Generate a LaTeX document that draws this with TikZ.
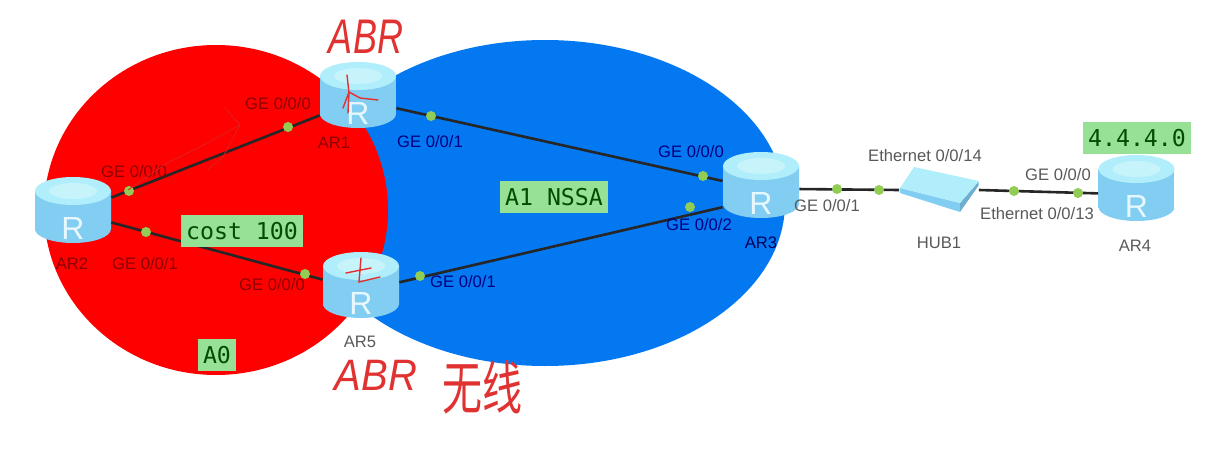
\documentclass[tikz,border=0pt]{standalone}
\usepackage{fontspec}
\setmainfont{Liberation Sans}
\setmonofont{DejaVu Sans Mono}
\newfontfamily\cjkfont{Noto Sans CJK SC}
\usetikzlibrary{positioning}
\definecolor{careared}{RGB}{254,0,0}
\definecolor{careablue}{RGB}{4,120,240}
\definecolor{cnote}{RGB}{150,225,150}
\definecolor{cport}{RGB}{145,205,85}
\definecolor{cbody}{RGB}{130,205,242}
\definecolor{clight}{RGB}{170,232,250}
\definecolor{ctop}{RGB}{175,238,250}
\definecolor{cpen}{RGB}{225,50,50}
\begin{document}
\begin{tikzpicture}[
    x=0.5pt, y=-0.5pt,
    router/.style={minimum width=38pt, minimum height=33pt, inner sep=0pt,
      label={[text=white!90!cyan, font=\fontsize{16}{16}\selectfont, inner sep=0pt, yshift=-9pt]center:R},
      path picture={
        \shade[left color=cbody, middle color=clight, right color=cbody]
          (-38,-19) -- (-38,19) arc[start angle=180, end angle=0, x radius=38, y radius=14]
          -- (38,-19) -- cycle;
        \fill[ctop] (0,-19) ellipse [x radius=38, y radius=14];
        \fill[white, opacity=0.3] (0,-19) ellipse [x radius=24, y radius=8];
      }},
    hubbox/.style={minimum width=39.5pt, minimum height=23pt, inner sep=0pt,
      path picture={
        \fill[cbody] (-39,-2) -- (21,13) -- (21,22) -- (-39,3) -- cycle;
        \fill[cbody!85!black] (21,13) -- (40,-9) -- (40,-5) -- (21,22) -- cycle;
        \fill[ctop] (-39,-2) -- (-25,-23) -- (40,-9) -- (21,13) -- cycle;
      }},
    port/.style={circle, fill=cport, inner sep=0pt, minimum size=5pt},
    wire/.style={line width=1.3pt, black!85},
    note/.style={fill=cnote, font=\ttfamily\fontsize{11.6}{12}\selectfont, text=black!70!green,
      inner xsep=2.5pt, inner ysep=0pt, minimum height=16pt},
    iface/.style={font=\fontsize{8.3}{8.3}\selectfont, inner sep=0pt, text=#1},
    iface/.default=black!65,
    pen/.style={text=cpen, inner sep=0pt, transform shape},
    stroke/.style={cpen, line width=0.7pt, line cap=round}
]
\useasboundingbox (0,0) rectangle (1206,455);

%% areas
\fill[careablue] (545,203) ellipse [x radius=240, y radius=163];
\fill[careared] (216,210) ellipse [x radius=172, y radius=165];

%% routers and hub
\node[router] (ar1) at (358,95) {};
\node[router] (ar2) at (73,210) {};
\node[router] (ar5) at (361,285) {};
\node[router] (ar3) at (761,185) {};
\node[router] (ar4) at (1136.5,188) {};
\node[hubbox] (hub) at (939,190) {};

%% links
\draw[wire] (ar2.18) -- (ar1.208);
\draw[wire] (ar2.-18) -- (ar5.172);
\draw[wire] (ar1.-19) -- (ar3.174);
\draw[wire] (ar5.4) -- (ar3.210);
\draw[wire] (ar3.-6) -- (hub.west);
\draw[wire] (hub.east) -- (ar4.188);

%% ports
\node[port] (p1) at (288,127) {};
\node[port] (p2) at (129,191) {};
\node[port] (p3) at (146,232) {};
\node[port] (p4) at (305,274) {};
\node[port] (p5) at (431,116) {};
\node[port] (p6) at (703,176) {};
\node[port] (p7) at (420,276) {};
\node[port] (p8) at (690,207) {};
\node[port] (p9) at (837,189) {};
\node[port] (p10) at (879,190) {};
\node[port] (p11) at (1014,191) {};
\node[port] (p12) at (1078,193) {};

%% labels
\node[iface=red!55!black] (l1) at (278,104) {GE 0/0/0};
\node[iface=red!55!black] (l2) at (134,172) {GE 0/0/0};
\node[iface=red!55!black] (l3) at (145,264) {GE 0/0/1};
\node[iface=red!55!black] (l4) at (272,285) {GE 0/0/0};
\node[iface=blue!50!black] (l5) at (430,142) {GE 0/0/1};
\node[iface=blue!50!black] (l6) at (691,152) {GE 0/0/0};
\node[iface=blue!50!black] (l7) at (463,282) {GE 0/0/1};
\node[iface=blue!50!black] (l8) at (699,225) {GE 0/0/2};
\node[iface] (l9) at (827,206) {GE 0/0/1};
\node[iface] (l10) at (925,156) {Ethernet 0/0/14};
\node[iface] (l11) at (1037,214) {Ethernet 0/0/13};
\node[iface] (l12) at (1058,175) {GE 0/0/0};
\node[iface=red!55!black] (n1) at (334,143) {AR1};
\node[iface=red!55!black] (n2) at (72,264) {AR2};
\node[iface] (n5) at (360,342) {AR5};
\node[iface=blue!35!black] (n3) at (761,243) {AR3};
\node[iface] (nh) at (939,243) {HUB1};
\node[iface] (n4) at (1135,246) {AR4};

%% notes
\node[note] (cost) at (242,231) {cost 100};
\node[note] (nssa) at (554,197) {A1 NSSA};
\node[note] (a0) at (217,355) {A0};
\node[note] (net) at (1137,138) {4.4.4.0};

%% pen marks
\node[pen, yscale=1.35, font=\itshape\fontsize{18}{18}\selectfont] (abr1) at (366,37) {ABR};
\node[pen, yscale=1.1, font=\itshape\fontsize{20}{20}\selectfont] (abr5) at (376,375) {ABR};
\node[pen, yscale=1.45, font=\cjkfont\fontsize{20}{20}\selectfont] (wx) at (482,387) {无线};
\draw[stroke] (347,75) -- (349,93) -- (348,113) (343,108) -- (349,92) -- (360,98) -- (378,100);
\draw[stroke] (346,273) -- (371,268) (361,258) -- (359,282) -- (380,277);
\draw[careared!75!gray, line width=0.4pt] (128,190) -- (167,163) -- (200,147) -- (240,125) -- (225,108)
  (240,125) -- (223,157) -- (207,170);
\end{tikzpicture}
\end{document}
